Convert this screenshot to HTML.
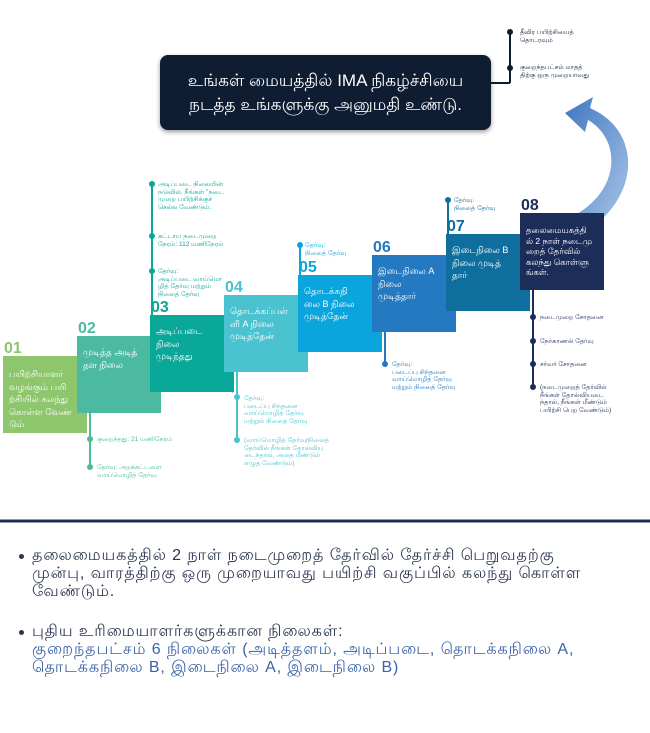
<!DOCTYPE html>
<html><head><meta charset="utf-8"><style>
body{margin:0;width:650px;height:733px;background:#fff;position:relative;overflow:hidden;font-family:"Liberation Sans","Noto Sans CJK SC",sans-serif}
.a{position:absolute}
.box{position:absolute;width:84px;height:77px;color:#fff;font-size:9px;line-height:12.5px;box-sizing:border-box;padding:10px 4px 0 6px;overflow:hidden;white-space:nowrap}
.num{position:absolute;font-weight:bold;font-size:16px}
.t{position:absolute;font-size:6.5px;line-height:7.5px;white-space:nowrap}
.dot{position:absolute;width:6px;height:6px;border-radius:50%}
.vl{position:absolute;width:1.5px}
.bl{position:absolute;left:32px;font-size:16px;letter-spacing:0.9px;line-height:18px;white-space:nowrap}
.bd{position:absolute;left:19px;width:5px;height:5px;border-radius:50%;background:#2b3550}
</style></head><body>
<svg class="a" style="left:0;top:0" width="650" height="733">
<defs><linearGradient id="g" x1="0" y1="0" x2="1" y2="1"><stop offset="0" stop-color="#3f77c2"/><stop offset="1" stop-color="#a9c4e6"/></linearGradient></defs>
<path d="M595,225 C640,190 640,130 590,108 L593,97 L565,113 L585,132 L588,120 C622,140 620,190 575,215 Z" fill="url(#g)"/>
<polygon points="87,413 87,433 67,413" fill="#5f9a3e"/>
<polygon points="160,393 160,413 140,393" fill="#2f8c73"/>
<polygon points="233,372 233,393 213,372" fill="#077a6b"/>
<polygon points="307,352 307,372 287,352" fill="#23899a"/>
<polygon points="381,331 381,352 361,331" fill="#3b8aa8"/>
<polygon points="456,311 456,331 436,311" fill="#0e5a84"/>
<polygon points="530,290 530,311 510,290" fill="#0a4768"/>
<line x1="0" y1="521" x2="650" y2="521" stroke="#1c2d5a" stroke-width="3"/>
</svg>
<div class="a" style="left:160px;top:55px;width:331px;height:75px;background:#0f1d33;border-radius:8px;box-shadow:0 2px 5px rgba(0,0,0,.4);color:#fff;font-size:17px;line-height:24px;text-align:center;padding-top:14px;box-sizing:border-box">உங்கள் மையத்தில் IMA நிகழ்ச்சியை<br>நடத்த உங்களுக்கு அனுமதி உண்டு.</div>
<div class="a" style="left:491px;top:82px;width:19px;height:1.5px;background:#0f1d33"></div>
<div class="vl" style="left:509px;top:32px;height:51px;background:#0f1d33"></div>
<div class="dot" style="left:507px;top:29px;background:#0f1d33"></div>
<div class="dot" style="left:507px;top:65px;background:#0f1d33"></div>
<div class="t" style="left:520px;top:29px;color:#0f1d33">தீவிர பயிற்சியைத்<br>தொடரவும்</div>
<div class="t" style="left:520px;top:64px;color:#0f1d33">குறைந்தபட்சம் மாதத்<br>திற்கு ஒரு முறையாவது</div>

<div class="box" style="left:3px;top:356px;background:#8dc66c;padding-top:12px">பயிற்சியாளர்<br>வழங்கும் பயி<br>ற்சியில் கலந்து<br>கொள்ள வேண்<br>டும்</div>
<div class="num" style="left:4px;top:340px;color:#8dc66c">01</div>
<div class="box" style="left:77px;top:336px;background:#4bbaa0">முடித்த அடித்<br>தள நிலை</div>
<div class="num" style="left:78px;top:320px;color:#4bbaa0">02</div>
<div class="box" style="left:150px;top:315px;background:#0aa899">அடிப்படை<br>நிலை<br>முடிந்தது</div>
<div class="num" style="left:151px;top:299px;color:#0aa899">03</div>
<div class="box" style="left:224px;top:295px;background:#4ac2d0">தொடக்கப்பள்<br>ளி A நிலை<br>முடித்தேன்</div>
<div class="num" style="left:225px;top:279px;color:#4ac2d0">04</div>
<div class="box" style="left:298px;top:275px;background:#0aa5dc">தொடக்கநி<br>லை B நிலை<br>முடித்தேன்</div>
<div class="num" style="left:299px;top:259px;color:#0aa5dc">05</div>
<div class="box" style="left:372px;top:255px;background:#2479c0">இடைநிலை A<br>நிலை<br>முடித்தார்</div>
<div class="num" style="left:373px;top:239px;color:#2479c0">06</div>
<div class="box" style="left:446px;top:234px;background:#0e6f9e">இடைநிலை B<br>நிலை முடித்<br>தார்</div>
<div class="num" style="left:447px;top:218px;color:#0e6f9e">07</div>
<div class="box" style="left:520px;top:213px;background:#1c2d5a;padding-top:12px;font-size:8.5px;line-height:10.5px">தலைமையகத்தி<br>ல் 2 நாள் நடைமு<br>றைத் தேர்வில்<br>கலந்து கொள்ளு<br>ங்கள்.</div>
<div class="num" style="left:521px;top:197px;color:#1c2d5a">08</div>

<div class="vl" style="left:89px;top:413px;height:55px;background:#4bbaa0"></div>
<div class="dot" style="left:87px;top:436px;background:#4bbaa0"></div>
<div class="dot" style="left:87px;top:464px;background:#4bbaa0"></div>
<div class="t" style="left:97px;top:436px;color:#4bbaa0">குறைந்தது: 21 மணிநேரம்</div>
<div class="t" style="left:97px;top:464px;color:#4bbaa0">தேர்வு: அறக்கட்டளை<br>வாய்மொழித் தேர்வு</div>

<div class="vl" style="left:151px;top:184px;height:131px;background:#0aa899"></div>
<div class="dot" style="left:149px;top:181px;background:#0aa899"></div>
<div class="dot" style="left:149px;top:233px;background:#0aa899"></div>
<div class="dot" style="left:149px;top:268px;background:#0aa899"></div>
<div class="t" style="left:158px;top:181px;color:#0aa899">அடிப்படை நிலையின்<br>நடுவில், நீங்கள் "நடை<br>முறை பயிற்சிக்குச்<br>செல்ல வேண்டும்.</div>
<div class="t" style="left:158px;top:233px;color:#0aa899">கட்டாய நடைமுறை<br>நேரம்: 112 மணிநேரம்</div>
<div class="t" style="left:158px;top:268px;color:#0aa899">தேர்வு:<br>அடிப்படை வாய்மொ<br>ழித் தேர்வு மற்றும்<br>நிலைத் தேர்வு</div>

<div class="vl" style="left:236px;top:372px;height:68px;background:#4ac2d0"></div>
<div class="dot" style="left:234px;top:394px;background:#4ac2d0"></div>
<div class="dot" style="left:234px;top:437px;background:#4ac2d0"></div>
<div class="t" style="left:244px;top:395px;color:#4ac2d0">தேர்வு:<br>படைப்பு சிந்தனை<br>வாய்மொழித் தேர்வு<br>மற்றும் நிலைத் தேர்வு</div>
<div class="t" style="left:244px;top:437px;color:#4ac2d0">(வாய்மொழித் தேர்வு/நிலைத்<br>தேர்வில் நீங்கள் தோல்வியு<br>டைந்தால், அதை மீண்டும்<br>எழுத வேண்டும்)</div>

<div class="vl" style="left:299px;top:245px;height:30px;background:#0aa5dc"></div>
<div class="dot" style="left:297px;top:242px;background:#0aa5dc"></div>
<div class="t" style="left:305px;top:242px;color:#0aa5dc">தேர்வு:<br>நிலைத் தேர்வு</div>

<div class="vl" style="left:384px;top:331px;height:33px;background:#2479c0"></div>
<div class="dot" style="left:382px;top:361px;background:#2479c0"></div>
<div class="t" style="left:392px;top:361px;color:#2479c0">தேர்வு:<br>படைப்பு சிந்தனை<br>வாய்மொழித் தேர்வு<br>மற்றும் நிலைத் தேர்வு</div>

<div class="vl" style="left:447px;top:200px;height:34px;background:#0e6f9e"></div>
<div class="dot" style="left:445px;top:197px;background:#0e6f9e"></div>
<div class="t" style="left:454px;top:197px;color:#0e6f9e">தேர்வு:<br>நிலைத் தேர்வு</div>

<div class="vl" style="left:532px;top:290px;height:97px;background:#1c2d5a"></div>
<div class="dot" style="left:530px;top:314px;background:#1c2d5a"></div>
<div class="dot" style="left:530px;top:338px;background:#1c2d5a"></div>
<div class="dot" style="left:530px;top:361px;background:#1c2d5a"></div>
<div class="dot" style="left:530px;top:384px;background:#1c2d5a"></div>
<div class="t" style="left:540px;top:314px;color:#1c2d5a">நடைமுறை சோதனை</div>
<div class="t" style="left:540px;top:338px;color:#1c2d5a">நேர்காணல் தேர்வு</div>
<div class="t" style="left:540px;top:361px;color:#1c2d5a">சர்வர் சோதனை</div>
<div class="t" style="left:540px;top:384px;color:#1c2d5a">(நடைமுறைத் தேர்வில்<br>நீங்கள் தோல்வியடை<br>ந்தால், நீங்கள் மீண்டும்<br>பயிற்சி பெற வேண்டும்)</div>

<div class="bd" style="top:554px"></div>
<div class="bl" style="top:547px;color:#2b3550">தலைமையகத்தில் 2 நாள் நடைமுறைத் தேர்வில் தேர்ச்சி பெறுவதற்கு<br>முன்பு, வாரத்திற்கு ஒரு முறையாவது பயிற்சி வகுப்பில் கலந்து கொள்ள<br>வேண்டும்.</div>
<div class="bd" style="top:630px"></div>
<div class="bl" style="top:623px;color:#2b3550">புதிய உரிமையாளர்களுக்கான நிலைகள்:<br><span style="color:#3a63a8">குறைந்தபட்சம் 6 நிலைகள் (அடித்தளம், அடிப்படை, தொடக்கநிலை A,<br>தொடக்கநிலை B, இடைநிலை A, இடைநிலை B)</span></div>
</body></html>
